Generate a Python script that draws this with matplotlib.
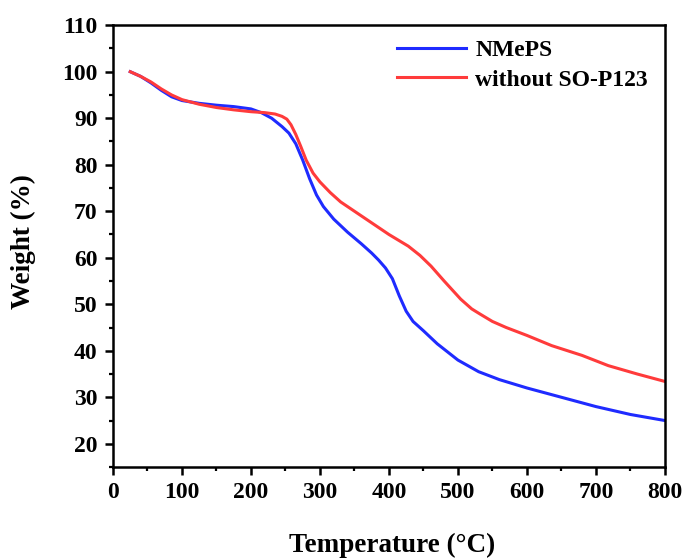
import matplotlib
matplotlib.use("Agg")
import matplotlib.pyplot as plt
from matplotlib.ticker import MultipleLocator

# TGA curves
temp_nmeps = [25, 40, 55, 70, 85, 100, 125, 150, 175, 200, 215, 230, 245, 255,
              265, 275, 285, 295, 305, 320, 340, 360, 375, 385, 395, 405, 415,
              425, 435, 450, 470, 500, 530, 560, 600, 650, 700, 750, 800]
wt_nmeps = [100, 99, 97.6, 96, 94.6, 93.8, 93.2, 92.8, 92.5, 92, 91.2, 90, 88.2,
            86.8, 84.5, 81, 77, 73.5, 71, 68.3, 65.5, 63, 61, 59.5, 57.8, 55.5,
            51.8, 48.5, 46.3, 44.3, 41.5, 38, 35.5, 33.8, 32, 30, 28, 26.3, 25]

temp_wo = [25, 40, 55, 70, 85, 100, 125, 150, 175, 200, 220, 235, 245, 252, 258,
           265, 272, 280, 290, 300, 315, 330, 350, 372, 400, 428, 445, 461, 480,
           504, 520, 532, 550, 570, 600, 636, 680, 718, 760, 800]
wt_wo = [100, 99, 97.8, 96.3, 95, 94, 93, 92.3, 91.8, 91.4, 91.2, 90.9, 90.4,
         89.8, 88.6, 86.5, 84, 81, 78.2, 76.3, 74, 72, 70, 67.8, 65, 62.5, 60.5,
         58.2, 55, 51.1, 49, 47.9, 46.3, 45, 43.3, 41.1, 39, 36.8, 35, 33.4]

plt.rcParams["font.family"] = ["Liberation Serif", "DejaVu Serif"]
plt.rcParams["font.weight"] = "bold"

fig = plt.figure(figsize=(6.89, 5.6), dpi=100)
ax = fig.add_axes([0.164, 0.166, 0.801, 0.789])

ax.plot(temp_nmeps, wt_nmeps, color="#1f2bff", lw=2.2, label="NMePS")
ax.plot(temp_wo, wt_wo, color="#ff3b3b", lw=2.2, label="without SO-P123")

ax.set_xlim(0, 800)
ax.set_ylim(15, 110)
ax.xaxis.set_major_locator(MultipleLocator(100))
ax.xaxis.set_minor_locator(MultipleLocator(50))
ax.yaxis.set_minor_locator(MultipleLocator(5))
ax.set_yticks(range(20, 111, 10))

for s in ax.spines.values():
    s.set_linewidth(1.8)
ax.tick_params(which="major", direction="out", length=6, width=1.8, labelsize=17, pad=5)
ax.tick_params(which="minor", direction="out", length=3, width=1.6)
for lab in ax.get_xticklabels() + ax.get_yticklabels():
    lab.set_fontweight("bold")

ax.set_xlabel("Temperature (°C)", fontsize=19.5, fontweight="bold")
ax.set_ylabel("Weight (%)", fontsize=19.5, fontweight="bold")
ax.xaxis.set_label_coords(0.505, -0.15)
ax.yaxis.set_label_coords(-0.14, 0.51)

leg = ax.legend(loc="upper right", frameon=False, fontsize=17, handlelength=2.9,
                handletextpad=0.4, labelspacing=0.35, borderaxespad=0.2,
                bbox_to_anchor=(0.995, 1.0))
for t in leg.get_texts():
    t.set_fontweight("bold")

fig.savefig("out.png", dpi=100)
